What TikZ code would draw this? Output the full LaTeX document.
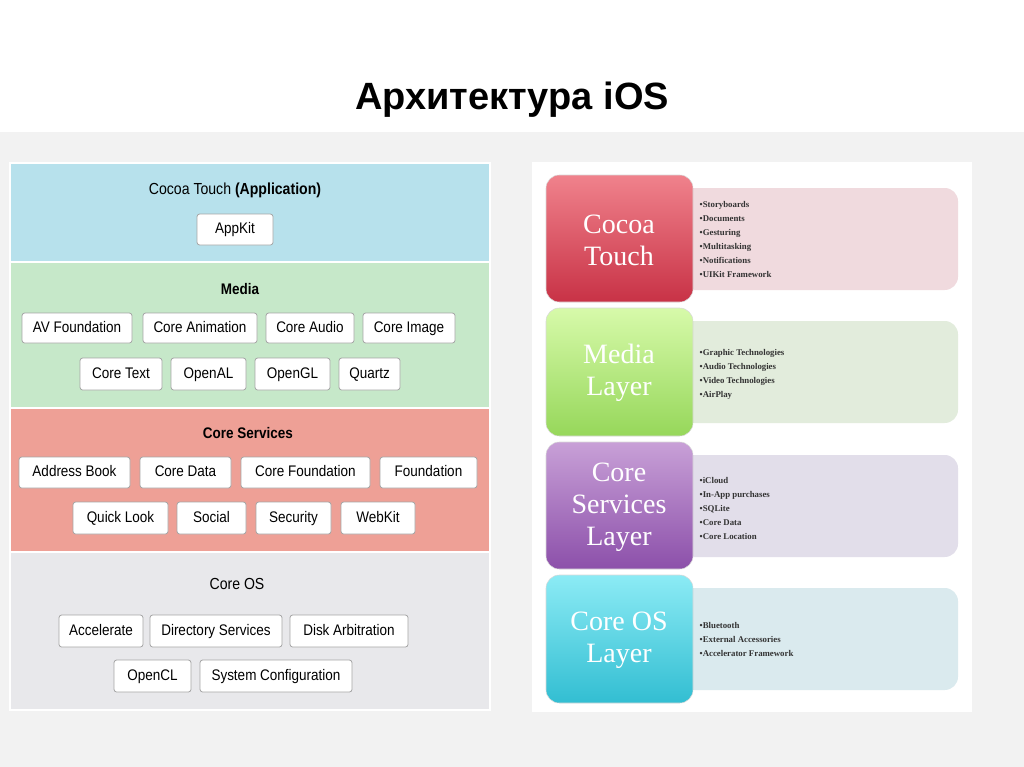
\documentclass[tikz,border=0pt]{standalone}
\usepackage{fontspec}
\setmainfont{Liberation Sans}
\newfontfamily\serifb{Liberation Serif}
\newfontfamily\narrowf[FakeStretch=0.88]{Liberation Sans}
\begin{document}
\begin{tikzpicture}[x=0.75pt,y=-0.75pt,
  comp/.style={draw=black!35,fill=white,rounded corners=2pt,line width=0.6pt,inner sep=0pt,text height=1.55ex,text depth=0.3ex,font=\narrowf\fontsize{11.5}{12}\selectfont},
  band/.style={draw=white,line width=1pt},
  hdr/.style={font=\narrowf\fontsize{11.5}{12}\selectfont\bfseries},
  layer/.style={rounded corners=10pt,draw=black!15},
  light/.style={rounded corners=10pt},
  ltxt/.style={font=\serifb\fontsize{21}{24}\selectfont,text=white,align=center},
  btxt/.style={font=\serifb\fontsize{6.6}{10.5}\selectfont\bfseries,text=black!80,align=left,anchor=north west}]
\useasboundingbox (0,0) rectangle (1024,767);
\fill[white] (0,0) rectangle (1024,767);
\fill[black!5] (0,132) rectangle (1024,767);
\node[font=\fontsize{28.5}{30}\selectfont\bfseries] (title) at (512,100) {Архитектура iOS};
% left bands
\fill[band,fill={rgb,255:red,183;green,225;blue,236}] (10,163) rectangle (490,262);
\fill[band,fill={rgb,255:red,198;green,232;blue,201}] (10,262) rectangle (490,408);
\fill[band,fill={rgb,255:red,238;green,160;blue,150}] (10,408) rectangle (490,552);
\fill[band,fill={rgb,255:red,232;green,232;blue,235}] (10,552) rectangle (490,710);
\draw[white,line width=1.5pt] (10,262)--(490,262) (10,408)--(490,408) (10,552)--(490,552);
\node[font=\narrowf\fontsize{12}{13}\selectfont] (hct) at (235,190) {Cocoa Touch \textbf{(Application)}};
\node[hdr] (hm) at (240,289) {Media};
\node[hdr] (hcs) at (248,433) {Core Services};
\node[font=\narrowf\fontsize{12}{13}\selectfont] (hco) at (237,584) {Core OS};
\newcommand\cbox[6]{\node[comp,minimum width={(#3-#2)*0.75pt},minimum height={(#5-#4)*0.75pt}] (#1) at ({(#2+#3)/2},{(#4+#5)/2}) {#6};}
\cbox{appkit}{197}{273}{214}{245}{AppKit}
\cbox{avf}{22}{132}{313}{343}{AV Foundation}
\cbox{can}{143}{257}{313}{343}{Core Animation}
\cbox{cau}{266}{354}{313}{343}{Core Audio}
\cbox{cim}{363}{455}{313}{343}{Core Image}
\cbox{ctx}{80}{162}{358}{390}{Core Text}
\cbox{oal}{171}{246}{358}{390}{OpenAL}
\cbox{ogl}{255}{330}{358}{390}{OpenGL}
\cbox{qtz}{339}{400}{358}{390}{Quartz}
\cbox{ab}{19}{130}{457}{488}{Address Book}
\cbox{cd}{140}{231}{457}{488}{Core Data}
\cbox{cf}{241}{370}{457}{488}{Core Foundation}
\cbox{fd}{380}{477}{457}{488}{Foundation}
\cbox{ql}{73}{168}{502}{534}{Quick Look}
\cbox{soc}{177}{246}{502}{534}{Social}
\cbox{sec}{256}{331}{502}{534}{Security}
\cbox{wk}{341}{415}{502}{534}{WebKit}
\cbox{acc}{59}{143}{615}{647}{Accelerate}
\cbox{ds}{150}{282}{615}{647}{Directory Services}
\cbox{da}{290}{408}{615}{647}{Disk Arbitration}
\cbox{ocl}{114}{191}{660}{692}{OpenCL}
\cbox{sc}{200}{352}{660}{692}{System Configuration}
% right panel
\fill[white] (532,162) rectangle (972,712);
\fill[light,fill={rgb,255:red,240;green,218;blue,222}] (680,188) rectangle (958,290);
\fill[light,fill={rgb,255:red,226;green,236;blue,220}] (680,321) rectangle (958,423);
\fill[light,fill={rgb,255:red,226;green,222;blue,234}] (680,455) rectangle (958,557);
\fill[light,fill={rgb,255:red,218;green,234;blue,238}] (680,588) rectangle (958,690);
\shade[layer,top color={rgb,255:red,240;green,130;blue,140},bottom color={rgb,255:red,200;green,50;blue,70}] (546,175) rectangle (693,302);
\shade[layer,top color={rgb,255:red,215;green,250;blue,170},bottom color={rgb,255:red,150;green,215;blue,90}] (546,308) rectangle (693,436);
\shade[layer,top color={rgb,255:red,200;green,160;blue,215},bottom color={rgb,255:red,140;green,80;blue,170}] (546,442) rectangle (693,569);
\shade[layer,top color={rgb,255:red,140;green,235;blue,245},bottom color={rgb,255:red,50;green,190;blue,210}] (546,575) rectangle (693,703);
\node[ltxt] (lct) at (619,240) {Cocoa\\Touch};
\node[ltxt] (lml) at (619,373) {Media\\Layer};
\node[ltxt] (lcs) at (619,507) {Core\\Services\\Layer};
\node[ltxt] (lco) at (619,640) {Core OS\\Layer};
\node[btxt] (b1) at (695,197) {•Storyboards\\•Documents\\•Gesturing\\•Multitasking\\•Notifications\\•UIKit Framework};
\node[btxt] (b2) at (695,345) {•Graphic Technologies\\•Audio Technologies\\•Video Technologies\\•AirPlay};
\node[btxt] (b3) at (695,473) {•iCloud\\•In-App purchases\\•SQLite\\•Core Data\\•Core Location};
\node[btxt] (b4) at (695,618) {•Bluetooth\\•External Accessories\\•Accelerator Framework};
\end{tikzpicture}
\end{document}
